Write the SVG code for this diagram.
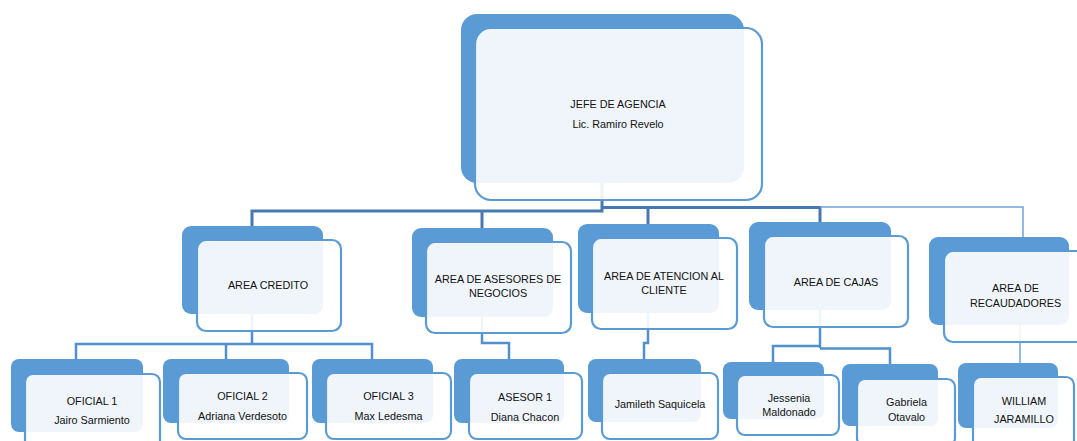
<svg xmlns="http://www.w3.org/2000/svg" width="1077" height="441" viewBox="0 0 1077 441">
<style>
.bk{fill:#5B9BD5}
.fr{fill:#ffffff;fill-opacity:0.9;stroke:#5B9BD5;stroke-width:2.2}
.t{font-family:"Liberation Sans",Arial,sans-serif;font-size:10.8px;fill:#111111;text-anchor:middle}
.c{fill:none;stroke:#5290CC;stroke-width:2.5}
.cd{fill:none;stroke:#4779B0;stroke-width:3}
.ct{fill:none;stroke:#6FA3D8;stroke-width:1.5}
</style>
<rect width="1077" height="441" fill="#ffffff"/>
<g id="connectors">
<path class="cd" d="M602,183 V211 H252 V226"/>
<path class="cd" d="M482,211 V228"/>
<path class="cd" d="M602,207.5 H820 V222"/>
<path class="cd" d="M648,207.5 V224"/>
<path class="ct" d="M820,207 H1023 V237"/>
<path class="c" d="M252,314 V344"/>
<path class="c" d="M76,359 V344 H372 V359"/>
<path class="c" d="M226,344 V359"/>
<path class="c" d="M482,317 V343 H509 V359"/>
<path class="c" d="M648,313 V343 H644 V359"/>
<path class="c" d="M820,310 V348"/>
<path class="c" d="M820,346 H773 V362"/>
<path class="c" d="M820,348.5 H890 V364"/>
<path class="ct" d="M1020,325 V363"/>
</g>
<g id="jefe">
<rect class="bk" x="461" y="14" width="283" height="169" rx="16"/>
<rect class="fr" x="475" y="28" width="287" height="172" rx="16"/>
<text class="t" x="618" y="108">JEFE DE AGENCIA</text>
<text class="t" x="618" y="128">Lic. Ramiro Revelo</text>
</g>
<g id="area-credito">
<rect class="bk" x="182" y="226" width="141" height="88" rx="9"/>
<rect class="fr" x="197" y="240" width="144" height="91" rx="9"/>
<text class="t" x="268" y="289">AREA CREDITO</text>
</g>
<g id="area-asesores">
<rect class="bk" x="412" y="228" width="141" height="89" rx="9"/>
<rect class="fr" x="426" y="242" width="145" height="91" rx="9"/>
<text class="t" x="498" y="283">AREA DE ASESORES DE</text>
<text class="t" x="498" y="297">NEGOCIOS</text>
</g>
<g id="area-atencion">
<rect class="bk" x="578" y="224" width="141" height="89" rx="9"/>
<rect class="fr" x="592" y="238" width="145" height="91" rx="9"/>
<text class="t" x="664" y="280">AREA DE ATENCION AL</text>
<text class="t" x="664" y="294">CLIENTE</text>
</g>
<g id="area-cajas">
<rect class="bk" x="749" y="222" width="142" height="88" rx="9"/>
<rect class="fr" x="764" y="236" width="144" height="91" rx="9"/>
<text class="t" x="836" y="286">AREA DE CAJAS</text>
</g>
<g id="area-recaudadores">
<rect class="bk" x="929" y="237" width="140" height="88" rx="9"/>
<rect class="fr" x="944" y="251" width="146" height="91" rx="9"/>
<text class="t" x="1015.5" y="292">AREA DE</text>
<text class="t" x="1015.5" y="307">RECAUDADORES</text>
</g>
<g id="oficial1">
<rect class="bk" x="11" y="359" width="132" height="73" rx="8"/>
<rect class="fr" x="25" y="374" width="135" height="81" rx="8"/>
<text class="t" x="92" y="405">OFICIAL 1</text>
<text class="t" x="92" y="424">Jairo Sarmiento</text>
</g>
<g id="oficial2">
<rect class="bk" x="163" y="359" width="126" height="64" rx="8"/>
<rect class="fr" x="178" y="373" width="129" height="66" rx="8"/>
<text class="t" x="242.5" y="400">OFICIAL 2</text>
<text class="t" x="242.5" y="420">Adriana Verdesoto</text>
</g>
<g id="oficial3">
<rect class="bk" x="312" y="359" width="121" height="64" rx="8"/>
<rect class="fr" x="326" y="373" width="125" height="66" rx="8"/>
<text class="t" x="388.5" y="400">OFICIAL 3</text>
<text class="t" x="388.5" y="420">Max Ledesma</text>
</g>
<g id="asesor1">
<rect class="bk" x="454" y="359" width="110" height="64" rx="8"/>
<rect class="fr" x="469" y="373" width="113" height="66" rx="8"/>
<text class="t" x="525" y="401">ASESOR 1</text>
<text class="t" x="525" y="421">Diana Chacon</text>
</g>
<g id="jamileth">
<rect class="bk" x="588" y="359" width="113" height="63" rx="8"/>
<rect class="fr" x="602" y="373" width="116" height="66" rx="8"/>
<text class="t" x="660" y="408">Jamileth Saquicela</text>
</g>
<g id="jessenia">
<rect class="bk" x="723" y="362" width="101" height="57" rx="8"/>
<rect class="fr" x="737" y="375" width="102" height="60" rx="8"/>
<text class="t" x="789" y="402">Jessenia</text>
<text class="t" x="789" y="416">Maldonado</text>
</g>
<g id="gabriela">
<rect class="bk" x="842" y="364" width="96" height="62" rx="8"/>
<rect class="fr" x="857" y="379" width="98" height="67" rx="8"/>
<text class="t" x="906.5" y="406">Gabriela</text>
<text class="t" x="906.5" y="421">Otavalo</text>
</g>
<g id="william">
<rect class="bk" x="958" y="363" width="100" height="65" rx="8"/>
<rect class="fr" x="973" y="377" width="101" height="73" rx="8"/>
<text class="t" x="1024" y="405">WILLIAM</text>
<text class="t" x="1024" y="423">JARAMILLO</text>
</g>
</svg>
